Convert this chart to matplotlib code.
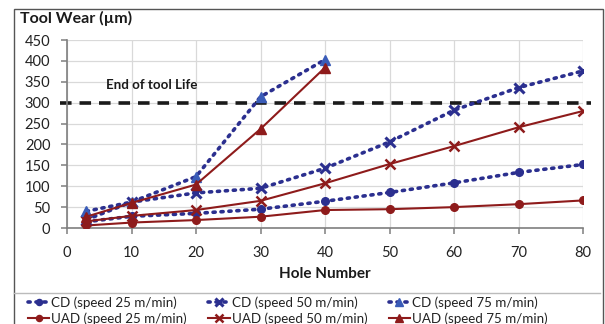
import matplotlib
matplotlib.use("Agg")
import matplotlib.pyplot as plt
from matplotlib.lines import Line2D
from matplotlib.patches import Rectangle

# Data
holes = [3, 10, 20, 30, 40, 50, 60, 70, 80]
holes_75 = [3, 10, 20, 30, 40]
cd_25 = [15, 28, 35, 45, 64, 85, 108, 133, 152]
uad_25 = [6, 13, 19, 27, 43, 45, 50, 57, 66]
cd_50 = [20, 62, 84, 95, 143, 206, 282, 336, 376]
uad_50 = [16, 29, 43, 65, 107, 153, 196, 241, 280]
cd_75 = [40, 62, 123, 314, 403]
uad_75 = [27, 60, 104, 237, 384]
tool_life = 300

labels = ["CD (speed 25 m/min)", "UAD (speed 25 m/min)",
          "CD (speed 50 m/min)", "UAD (speed 50 m/min)",
          "CD (speed 75 m/min)", "UAD (speed 75 m/min)"]

plt.rcParams['font.family'] = ['Lato', 'DejaVu Sans']

W, H = 605, 324
fig = plt.figure(figsize=(W / 100, H / 100), dpi=100)
ax = fig.add_axes([67 / W, 1 - 228 / H, (583 - 67) / W, (228 - 40) / H])

navy = '#2B2F8F'
tri_blue = '#3A5CB8'
red = '#8E1B1B'
dot = (0, (0.6, 1.6))

ax.plot(holes, cd_25, color=navy, lw=2.6, ls=dot, dash_capstyle='round',
        marker='o', ms=5.5, mfc=navy, mec=navy, label=labels[0], zorder=3)
ax.plot(holes, uad_25, color=red, lw=1.5, marker='o', ms=5.5, mfc=red, mec=red,
        label=labels[1], zorder=3)
ax.plot(holes, cd_50, color=navy, lw=2.6, ls=dot, dash_capstyle='round',
        marker='x', ms=7, mew=2.2, mec=navy, label=labels[2], zorder=3)
ax.plot(holes, uad_50, color=red, lw=1.5, marker='x', ms=7, mew=1.8, mec=red,
        label=labels[3], zorder=3)
ax.plot(holes_75, cd_75, color=navy, lw=2.6, ls=dot, dash_capstyle='round',
        marker='^', ms=6.5, mfc=tri_blue, mec=tri_blue, label=labels[4], zorder=3)
ax.plot(holes_75, uad_75, color=red, lw=1.5, marker='^', ms=6.5, mfc=red, mec=red,
        label=labels[5], zorder=3)

ax.plot([-1.1, 81.2], [tool_life, tool_life], color='#1a1a1a', lw=2.6,
        ls=(0, (3.2, 2.2)), clip_on=False, zorder=2)
ax.text(6, 342, "End of tool Life", fontsize=9.6, fontweight='bold',
        ha='left', va='center', color='#1a1a1a')

ax.set_xlim(0, 80)
ax.set_ylim(0, 450)
ax.set_xticks(range(0, 81, 10))
ax.set_yticks(range(0, 451, 50))
ax.grid(True, color='#d9d9d9', lw=0.9)
ax.set_axisbelow(True)
for s in ['top', 'right']:
    ax.spines[s].set_visible(False)
for s in ['left', 'bottom']:
    ax.spines[s].set_color('#7f7f7f')
    ax.spines[s].set_linewidth(1.2)
ax.tick_params(axis='both', labelsize=10.5, colors='#7f7f7f', labelcolor='#222222',
               length=4, width=1.1, direction='out')
ax.tick_params(axis='x', pad=9)
ax.tick_params(axis='y', pad=8)

fig.text(20 / W, 1 - 18 / H, "Tool Wear (µm)", fontsize=11.5, fontweight='bold',
         ha='left', va='center', color='#1a1a1a')
fig.text(325 / W, 1 - 274 / H, "Hole Number", fontsize=11, fontweight='bold',
         ha='center', va='center', color='#1a1a1a')

# Frame and legend separator
fig.add_artist(Rectangle((14 / W, -0.05), (603 - 14) / W, 1 - 9 / H + 0.05,
                         transform=fig.transFigure, fill=False,
                         edgecolor='#555555', lw=1.0))
fig.add_artist(Line2D([14 / W, 600 / W], [1 - 293 / H, 1 - 293 / H],
                      transform=fig.transFigure, color='#bbbbbb', lw=1.0))

handles, lbls = ax.get_legend_handles_labels()
leg = fig.legend(handles, lbls, ncol=3, loc='upper left',
                 bbox_to_anchor=(28 / W, 1 - 296 / H), frameon=False,
                 fontsize=9.6, handlelength=1.6, handletextpad=0.15,
                 columnspacing=1.6, labelspacing=0.3, borderaxespad=0,
                 borderpad=0.0, markerscale=0.8)
for t in leg.get_texts():
    t.set_color('#222222')

fig.savefig("out.png", dpi=100)
